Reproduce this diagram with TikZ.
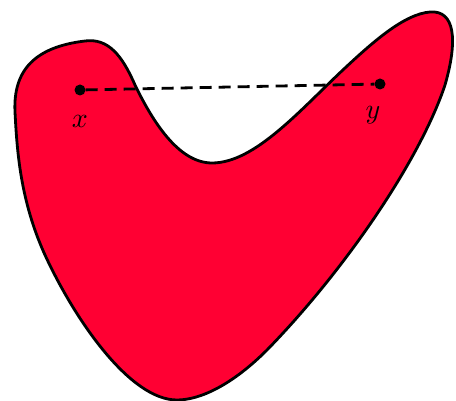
\documentclass[tikz,border=0pt]{standalone}
\usepackage{graphicx}
\usepackage{xcolor}
\usetikzlibrary{positioning}
\definecolor{Blob}{HTML}{FF0033}
\definecolor{Ink}{HTML}{000000}

\begin{document}
\begin{tikzpicture}[x=1pt,y=-1pt,blob/.style={draw=Ink, fill=Blob, line width=2.8pt},pt/.style={circle, fill=Ink, inner sep=0pt, minimum size=11pt},segment/.style={draw=Ink, line width=2.8pt, dash pattern=on 12pt off 7pt},ptlabel/.style={text=Ink}]
\useasboundingbox (0,0) rectangle (456,401);
\draw[blob] (15,112) .. controls (13,70) and (35,47) .. (85,41)
  .. controls (108,38) and (122,55) .. (135,85)
  .. controls (152,120) and (178,163) .. (212,163)
  .. controls (255,163) and (300,110) .. (345,68)
  .. controls (375,40) and (405,14) .. (430,12)
  .. controls (455,10) and (458,40) .. (445,85)
  .. controls (420,160) and (345,270) .. (267,350)
  .. controls (232,385) and (200,400) .. (177,400)
  .. controls (130,400) and (75,320) .. (45,255)
  .. controls (20,200) and (17,150) .. (15,112) -- cycle;
\node[pt] (x) at (80,90) {};
\node[pt] (y) at (380,84) {};
\draw[segment] (x) -- (y);
\node[ptlabel] (xl) at (80,121) {\scalebox{2.8}{$x$}};
\node[ptlabel] (yl) at (373,115) {\scalebox{2.8}{$y$}};
\end{tikzpicture}
\end{document}
